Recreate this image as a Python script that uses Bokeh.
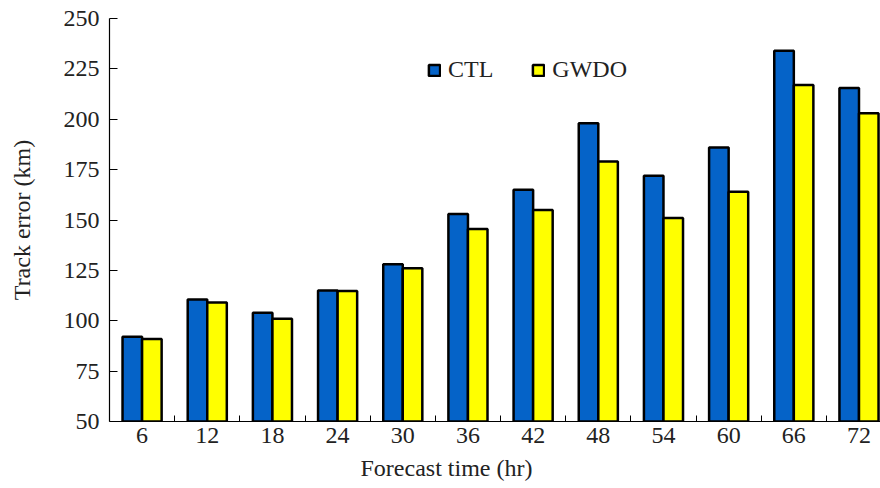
from bokeh.plotting import figure
from bokeh.models import ColumnDataSource, FixedTicker, Range1d, Legend, LegendItem, Title
from bokeh.embed import file_html
from bokeh.resources import INLINE

# Data
hours = ["6", "12", "18", "24", "30", "36", "42", "48", "54", "60", "66", "72"]
ctl = [92, 110.5, 104, 115, 128, 153, 165, 198, 172, 186, 234, 215.5]
gwdo = [91, 109, 101, 114.8, 126, 145.5, 155, 179, 151, 164, 217, 203]
x_title = "Forecast time (hr)"
y_title = "Track error (km)"

pos = list(range(len(hours)))
FONT = "Liberation Serif"
TXT = "#222222"

p = figure(width=880, height=488, output_backend="svg", toolbar_location=None,
           x_range=Range1d(-0.5, 11.33), y_range=Range1d(50, 250),
           min_border_left=109, min_border_right=0, min_border_top=18, min_border_bottom=0)

src = ColumnDataSource(dict(x=pos, ctl=ctl, gwdo=gwdo,
                            xc=[v - 0.15 for v in pos], xg=[v + 0.15 for v in pos]))
r1 = p.vbar(x="xc", top="ctl", bottom=50, width=0.3, source=src,
            fill_color="#0563C8", line_color="black", line_width=2.5)
r2 = p.vbar(x="xg", top="gwdo", bottom=50, width=0.3, source=src,
            fill_color="#FFFF00", line_color="black", line_width=2.5)

p.xgrid.visible = False
p.ygrid.visible = False
p.outline_line_color = None
p.background_fill_color = "white"
p.border_fill_color = "white"

xa = p.xaxis[0]
xa.ticker = FixedTicker(ticks=pos, minor_ticks=[v + 0.5 for v in pos])
xa.major_label_overrides = {i: h for i, h in enumerate(hours)}
xa.major_tick_in = 0
xa.major_tick_out = 0
xa.minor_tick_in = 6
xa.minor_tick_out = 0
xa.major_label_standoff = 6

ya = p.yaxis[0]
ya.ticker = FixedTicker(ticks=[50, 75, 100, 125, 150, 175, 200, 225, 250])
ya.major_tick_in = 8
ya.major_tick_out = 0
ya.axis_label = y_title
ya.major_label_standoff = 10
ya.axis_label_standoff = 26

for ax in (xa, ya):
    ax.axis_line_color = "black"
    ax.axis_line_width = 1.2
    ax.major_tick_line_color = "black"
    ax.major_label_text_font = FONT
    ax.major_label_text_font_size = "24px"
    ax.major_label_text_color = TXT
    ax.axis_label_text_font = FONT
    ax.axis_label_text_font_size = "24px"
    ax.axis_label_text_font_style = "normal"
    ax.axis_label_text_color = TXT
xa.minor_tick_line_color = "black"
ya.minor_tick_line_color = None

# x-axis title, placed as in the (wider) original image
p.add_layout(Title(text=x_title, align="left", offset=251, standoff=15,
                   text_font=FONT, text_font_size="24px", text_font_style="normal",
                   text_color=TXT), "below")

legend = Legend(items=[LegendItem(label="CTL", renderers=[r1]),
                       LegendItem(label="GWDO", renderers=[r2])],
                orientation="horizontal", location=(318, 338),
                padding=0, margin=0, spacing=38, label_standoff=7,
                glyph_width=14, glyph_height=14, label_height=14,
                border_line_color=None, background_fill_alpha=0,
                label_text_font=FONT, label_text_font_size="24px", label_text_color=TXT)
p.add_layout(legend)

open("out.html", "w").write(file_html(p, INLINE))
